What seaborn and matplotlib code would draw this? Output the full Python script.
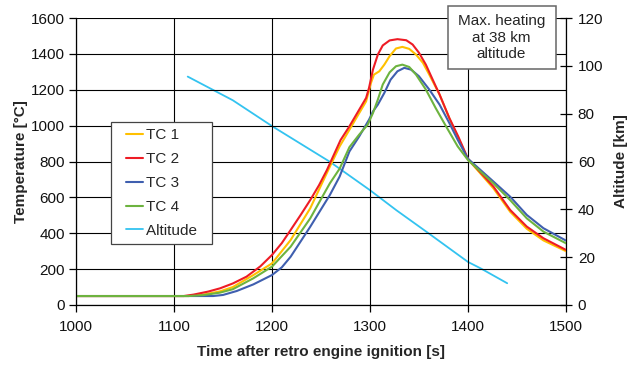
import numpy as np
import pandas as pd
import matplotlib
matplotlib.use("Agg")
import matplotlib.pyplot as plt
from matplotlib.lines import Line2D
from matplotlib.legend_handler import HandlerLine2D
from matplotlib.patches import Rectangle
import seaborn as sns

# ---- data ----
tc1_t = [1000, 1115, 1130, 1147, 1160, 1181, 1200, 1219, 1239, 1259, 1269, 1279, 1289, 1296,
         1301, 1304, 1309.5, 1314.6, 1320, 1326.5, 1333, 1340, 1347, 1354, 1360.5, 1371,
         1381, 1390, 1400, 1426, 1443, 1460, 1477, 1500]
tc1_v = [50, 50, 58, 76, 100, 167, 232, 362, 539, 771, 884, 977, 1070, 1135,
         1238, 1284, 1303, 1340, 1387, 1430, 1439, 1428, 1396, 1350, 1284, 1173,
         1040, 932, 812, 650, 520, 425, 360, 300]

tc2_t = [1000, 1110, 1120, 1135, 1147, 1160, 1174, 1188, 1200, 1210, 1219, 1229, 1239, 1248,
         1256, 1270, 1279, 1289, 1296, 1299, 1303, 1308, 1313, 1320, 1328, 1337, 1343.5,
         1350, 1357, 1364, 1371, 1381, 1390, 1400, 1426, 1443, 1460, 1477, 1500]
tc2_v = [50, 50, 58, 75, 93, 120, 158, 215, 279, 345, 418, 500, 585, 668,
         752, 920, 996, 1089, 1154, 1210, 1312, 1396, 1447, 1475, 1482, 1476, 1452,
         1406, 1340, 1256, 1173, 1042, 940, 815, 660, 530, 437, 372, 307]

tc3_t = [1000, 1140, 1150, 1164, 1181, 1200, 1210, 1219, 1239, 1259, 1269, 1279, 1289, 1299,
         1303, 1308, 1314.6, 1321, 1328, 1335, 1342, 1350, 1360.5, 1371, 1381, 1389.5,
         1400, 1426, 1443, 1460, 1477, 1500]
tc3_v = [50, 50, 56, 78, 115, 167, 210, 269, 436, 613, 716, 856, 940, 1033,
         1079, 1117, 1182, 1256, 1303, 1322, 1312, 1275, 1201, 1117, 1014, 921,
         815, 688, 604, 502, 428, 359]

tc4_t = [1000, 1115, 1130, 1147, 1160, 1181, 1200, 1219, 1239, 1259, 1269, 1279, 1289, 1297.6,
         1303, 1308, 1313, 1320, 1326.5, 1333, 1340, 1347, 1357, 1367, 1377.6, 1389.5,
         1400, 1426, 1443, 1460, 1477, 1500]
tc4_v = [50, 50, 55, 69, 88, 149, 214, 325, 483, 678, 760, 880, 950, 1005,
         1070, 1145, 1229, 1297, 1331, 1340, 1327, 1284, 1201, 1098, 996, 884,
         808, 678, 585, 483, 409, 344]

alt_t = [1114, 1160, 1200, 1259, 1300, 1327, 1358, 1400, 1413, 1440]
alt_v = [95.5, 85.6, 74.8, 59.9, 48.0, 39.6, 30.5, 18.0, 15.3, 9.1]

series_names = ["TC 1", "TC 2", "TC 3", "TC 4"]
series_colors = ["#FFC000", "#EE1C25", "#3F5FAF", "#6DB33F"]
alt_name = "Altitude"
alt_color = "#33C3F0"

x_ticks = [1000, 1100, 1200, 1300, 1400, 1500]
y_ticks = [0, 200, 400, 600, 800, 1000, 1200, 1400, 1600]
y2_ticks = [0, 20, 40, 60, 80, 100, 120]
note_text = "Max. heating\nat 38 km\naltitude"

df = pd.concat([
    pd.DataFrame({"time": t, "temp": v, "series": n})
    for t, v, n in zip([tc1_t, tc2_t, tc3_t, tc4_t], [tc1_v, tc2_v, tc3_v, tc4_v], series_names)
], ignore_index=True)
df_alt = pd.DataFrame({"time": alt_t, "alt": alt_v})

# ---- style ----
sns.set_style("white")
plt.rcParams["font.family"] = ["Liberation Sans", "DejaVu Sans"]
FS = 11

fig = plt.figure(figsize=(6.4, 3.65), dpi=100)
ax = fig.add_axes([76 / 640, 1 - 305 / 365, 490 / 640, 287 / 365])
ax2 = ax.twinx()

sns.lineplot(data=df, x="time", y="temp", hue="series", hue_order=series_names,
             palette=series_colors, ax=ax, linewidth=1.5, legend=False, sort=False,
             estimator=None, solid_joinstyle="round", solid_capstyle="round")
sns.lineplot(data=df_alt, x="time", y="alt", color=alt_color, ax=ax2, linewidth=1.3,
             legend=False, estimator=None)

ax.set_xlim(1000, 1500)
ax.set_ylim(0, 1600)
ax2.set_ylim(0, 120)
ax.set_xticks(x_ticks)
ax.set_yticks(y_ticks)
ax2.set_yticks(y2_ticks)

ax.grid(True, color="black", linewidth=0.8)
ax.set_axisbelow(True)
for sp in ["left", "bottom", "right", "top"]:
    ax.spines[sp].set_visible(False)
    ax2.spines[sp].set_visible(False)
ax.spines["left"].set_visible(True)
ax.spines["bottom"].set_visible(True)
ax2.spines["right"].set_visible(True)
for s in [ax.spines["left"], ax.spines["bottom"], ax2.spines["right"]]:
    s.set_color("black")
    s.set_linewidth(0.9)

ax.tick_params(axis="y", direction="out", length=5, width=0.9, color="black",
               labelsize=FS, labelcolor="#111111", left=True, pad=3)
ax.tick_params(axis="x", direction="out", length=5, width=0.9, color="black",
               labelsize=FS, labelcolor="#111111", bottom=True, pad=6)
ax2.tick_params(axis="y", direction="inout", length=9, width=0.9, color="black",
                labelsize=FS, labelcolor="#111111", right=True, pad=4)

ax.set_xlabel("Time after retro engine ignition [s]", fontweight="bold", fontsize=FS, labelpad=8)
ax.set_ylabel("Temperature [°C]", fontweight="bold", fontsize=FS, labelpad=2)
ax2.set_ylabel("Altitude [km]", fontweight="bold", fontsize=FS, labelpad=8)

handles = list(ax.get_lines()[:4]) + [ax2.get_lines()[0]]
labels = series_names + [alt_name + "  "]
leg = ax.legend(handles, labels, loc="upper left",
                bbox_to_anchor=(0.0708, 0.6376), borderaxespad=0, frameon=True, fancybox=False,
                edgecolor="#444444", framealpha=1, handlelength=2.31,
                handletextpad=-0.37, labelspacing=0.65, borderpad=0.4, fontsize=FS,
                handler_map={Line2D: HandlerLine2D(marker_pad=0.6, numpoints=2)})
leg.get_frame().set_linewidth(0.9)
ax.set_zorder(ax2.get_zorder() + 1)
ax.patch.set_visible(False)

# annotation box
fig.patches.append(Rectangle((447.7 / 640, 1 - 69.3 / 365), 108 / 640, 63.6 / 365,
                             transform=fig.transFigure, facecolor="white",
                             edgecolor="#666666", linewidth=1.1, zorder=5))
fig.text(501.5 / 640, 1 - 37.5 / 365, note_text, ha="center", va="center",
         fontsize=FS, linespacing=1.2, zorder=6)

fig.savefig("out.png", dpi=100)
